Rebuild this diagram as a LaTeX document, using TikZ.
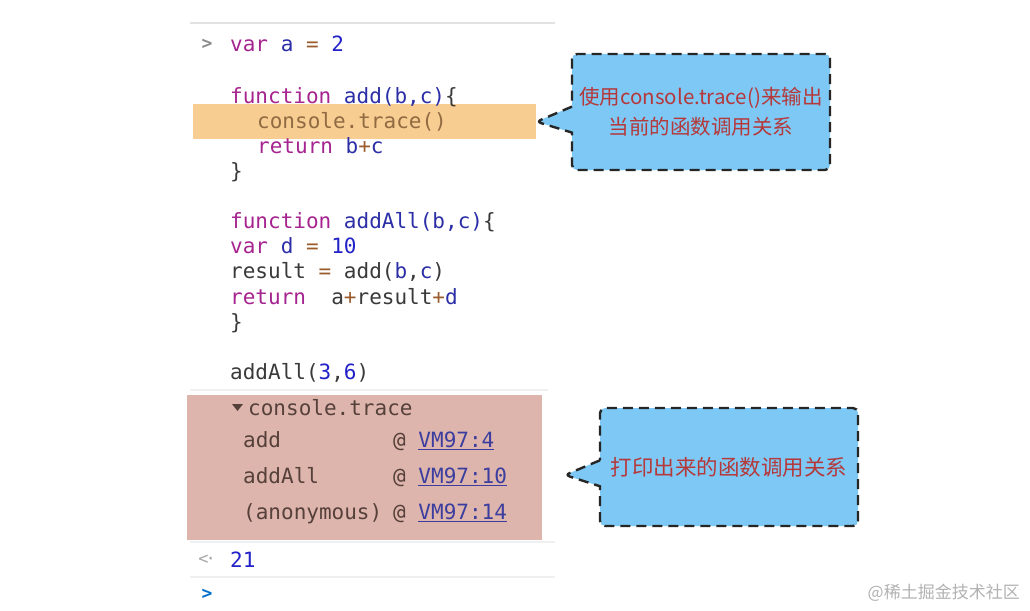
\documentclass[tikz,border=0pt]{standalone}
\usepackage{fontspec}
\setmonofont{DejaVu Sans Mono}
\newfontfamily\cjk{Noto Sans CJK SC}
\usetikzlibrary{shapes.callouts}
\definecolor{kwc}{HTML}{A6248F}
\definecolor{idc}{HTML}{2B2EA6}
\definecolor{numc}{HTML}{2222C8}
\definecolor{opc}{HTML}{9A5C2C}
\definecolor{plainc}{HTML}{3A3A3A}
\definecolor{hlc}{HTML}{F8CD92}
\definecolor{tracec}{HTML}{DDB5AD}
\definecolor{trtext}{HTML}{55403A}
\definecolor{linkc}{HTML}{3B3E9E}
\definecolor{tipc}{HTML}{7DC8F4}
\definecolor{tiptext}{HTML}{B5383A}
\definecolor{sepc}{HTML}{E2E2E2}
\newcommand\kw[1]{\textcolor{kwc}{#1}}
\newcommand\vn[1]{\textcolor{idc}{#1}}
\newcommand\nm[1]{\textcolor{numc}{#1}}
\newcommand\opr[1]{\textcolor{opc}{#1}}
\tikzset{
codeline/.style={anchor=base west,inner sep=0pt,font=\ttfamily\fontsize{21}{25}\selectfont,text=plainc},
traceline/.style={codeline,text=trtext},
tipbox/.style={rectangle callout,draw=black!85,fill=tipc,line width=2.4pt,dash pattern=on 10pt off 6pt,rounded corners=5pt,callout pointer width=26pt,text=tiptext,font=\cjk\fontsize{21.5}{30}\selectfont,align=center,inner sep=0pt},
sepline/.style={draw=sepc,line width=1.2pt},
}

\begin{document}
\begin{tikzpicture}[x=1pt,y=-1pt]
\useasboundingbox[fill=white] (0,0) rectangle (1030,610);
% background bands
\node (hl) [fill=hlc,anchor=north west,minimum width=343pt,minimum height=35pt,inner sep=0pt] at (193,104) {};
\node (trace) [fill=tracec,anchor=north west,minimum width=355pt,minimum height=145pt,inner sep=0pt] at (187,395) {};
\coordinate (s1a) at (190,23); \coordinate (s1b) at (555,23);
\coordinate (s2a) at (190,390); \coordinate (s2b) at (548,390);
\coordinate (s3a) at (190,542); \coordinate (s3b) at (555,542);
\coordinate (s4a) at (190,577); \coordinate (s4b) at (555,577);
\draw[sepline,line width=2pt] (s1a) -- (s1b);
\draw[sepline,draw=sepc!50] (s2a) -- (s2b);
\draw[sepline,draw=sepc!50] (s3a) -- (s3b);
\draw[sepline,draw=sepc!50] (s4a) -- (s4b);
% code
\node (pr1) [text=black!45,font=\ttfamily\bfseries\fontsize{18}{18}\selectfont,inner sep=0pt] at (207,44) {>};
\node (c1) [codeline] at (230,52) {\kw{var} \vn{a} \opr{=} \nm{2}};
\node (c2) [codeline] at (230,103) {\kw{function} \vn{add(b,c)}\{};
\node (c3) [codeline,text=black!55!hlc!60!brown] at (257,128) {console.trace()};
\node (c4) [codeline] at (257,153) {\kw{return} \vn{b}\opr{+}\vn{c}};
\node (c5) [codeline] at (230,178) {\}};
\node (c6) [codeline] at (230,228) {\kw{function} \vn{addAll(b,c)}\{};
\node (c7) [codeline] at (230,253) {\kw{var} \vn{d} \opr{=} \nm{10}};
\node (c8) [codeline] at (230,278) {result \opr{=} add(\vn{b},\vn{c})};
\node (c9) [codeline] at (230,304) {\kw{return}~~a\opr{+}result\opr{+}\vn{d}};
\node (c10) [codeline] at (230,329) {\}};
\node (c11) [codeline] at (230,379) {addAll(\nm{3},\nm{6})};
% trace output
\coordinate (t1) at (232,404); \coordinate (t2) at (243,404); \coordinate (t3) at (237.5,411);
\fill[trtext] (t1) -- (t2) -- (t3) -- cycle;
\node (tr0) [traceline] at (248,415) {console.trace};
\node (tr1) [traceline] at (243,447) {add};
\node (tr2) [traceline] at (243,483) {addAll};
\node (tr3) [traceline] at (243,519) {(anonymous)};
\node (at1) [traceline] at (393,447) {@ \textcolor{linkc}{\underline{VM97:4}}};
\node (at2) [traceline] at (393,483) {@ \textcolor{linkc}{\underline{VM97:10}}};
\node (at3) [traceline] at (393,519) {@ \textcolor{linkc}{\underline{VM97:14}}};
% result
\node (pr2) [text=black!35,font=\ttfamily\fontsize{17}{17}\selectfont,inner sep=0pt] at (207,560) {<\kern-3pt·};
\node (res) [codeline,text=numc] at (230,567) {21};
\node (pr3) [text=blue!45!cyan!80!black,font=\ttfamily\bfseries\fontsize{18}{18}\selectfont,inner sep=0pt] at (207,594) {>};
% callouts
\coordinate (ptr2) at (565,475);
\node (tip1) [tipbox,font=\cjk\fontsize{20.5}{30}\selectfont,minimum width=258pt,minimum height=116pt,callout absolute pointer={(hl.east)}] at (701,112) {使用console.trace()来输出\\当前的函数调用关系};
\node (tip2) [tipbox,minimum width=258pt,minimum height=118pt,callout absolute pointer={(ptr2)}] at (729,467) {打印出来的函数调用关系};
% watermark
\node (wm) [anchor=east,text=black!30,font=\cjk\fontsize{17}{17}\selectfont,inner sep=0pt] at (1020,593) {@稀土掘金技术社区};
\end{tikzpicture}
\end{document}
